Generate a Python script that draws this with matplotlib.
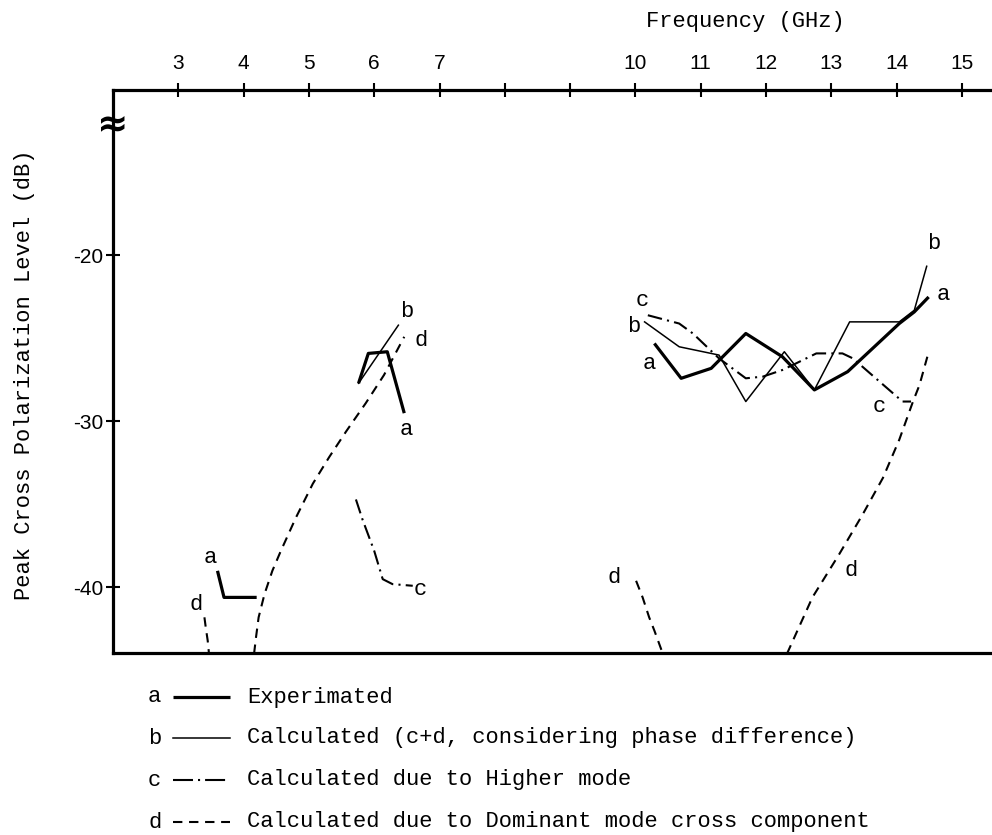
import matplotlib
matplotlib.use('Agg')
import matplotlib.pyplot as plt
from matplotlib.lines import Line2D

# a : experimented (thick solid)
a1_f = [3.60, 3.70, 4.20]
a1_db = [-39.0, -40.6, -40.6]
a2_f = [5.76, 5.91, 6.20, 6.46]
a2_db = [-27.7, -25.9, -25.8, -29.5]
a3_f = [10.29, 10.70, 11.16, 11.69, 12.25, 12.74, 13.25, 14.04, 14.27, 14.49]
a3_db = [-25.3, -27.4, -26.8, -24.7, -26.1, -28.1, -27.0, -24.1, -23.4, -22.5]

# b : calculated c+d with phase (thin solid)
b1_f = [5.76, 6.37]
b1_db = [-27.7, -24.2]
b2_f = [10.14, 10.67, 11.28, 11.69, 12.28, 12.74, 13.28, 14.04, 14.27, 14.46]
b2_db = [-24.0, -25.5, -26.0, -28.8, -25.8, -28.1, -24.0, -24.0, -23.3, -20.65]

# c : higher mode (dash-dot)
c1_f = [5.72, 5.82, 6.00, 6.13, 6.28, 6.59]
c1_db = [-34.7, -35.9, -37.8, -39.5, -39.8, -39.9]
c2_f = [10.19, 10.67, 10.88, 11.28, 11.69, 11.95, 12.25, 12.46, 12.77, 13.17, 13.33, 13.68, 14.09, 14.22]
c2_db = [-23.6, -24.1, -24.7, -26.2, -27.4, -27.3, -26.9, -26.5, -25.9, -25.9, -26.2, -27.4, -28.8, -28.8]

# d : dominant mode cross component (dashed)
d1_f = [3.40, 3.42, 3.45, 3.47]
d1_db = [-41.8, -42.4, -43.2, -44.0]
d2_f = [4.16, 4.19, 4.23, 4.32, 4.44, 4.57, 4.80, 5.06, 5.31, 5.57, 5.87, 6.15, 6.46]
d2_db = [-44.0, -43.0, -41.8, -40.4, -39.0, -37.8, -35.8, -33.75, -32.15, -30.6, -28.9, -27.2, -24.9]
d3_f = [10.01, 10.11, 10.21, 10.29, 10.42]
d3_db = [-39.6, -40.6, -41.8, -42.6, -44.0]
d4_f = [12.32, 12.71, 13.12, 13.48, 13.79, 14.04, 14.25, 14.35, 14.47]
d4_db = [-44.0, -40.6, -38.0, -35.6, -33.4, -31.1, -28.8, -27.8, -26.1]

xticks = [3, 4, 5, 6, 7, 8, 9, 10, 11, 12, 13, 14, 15]
xticklabels = ['3', '4', '5', '6', '7', '', '', '10', '11', '12', '13', '14', '15']
yticks = [-20, -30, -40]

# curve letters next to the lines
lab_txt = ['b', 'd', 'a', 'a', 'd', 'c', 'c', 'b', 'a', 'b', 'a', 'c', 'd', 'd']
lab_f = [6.49, 6.72, 6.49, 3.49, 3.27, 6.70, 10.11, 9.98, 10.21, 14.57, 14.71, 13.73, 13.30, 9.68]
lab_db = [-23.4, -25.1, -30.5, -38.2, -41.0, -40.1, -22.7, -24.3, -26.5, -19.3, -22.35, -29.1, -39.0, -39.4]

legend_keys = ['a', 'b', 'c', 'd']
legend_text = ['Experimated',
               'Calculated (c+d, considering phase difference)',
               'Calculated due to Higher mode',
               'Calculated due to Dominant mode cross component']

mono = 'Liberation Mono'
sans = 'Liberation Sans'
fs = 15.9

st_a = dict(color='black', lw=2.3, ls='-', solid_capstyle='butt')
st_b = dict(color='black', lw=1.1, ls='-')
st_c = dict(color='black', lw=1.5, ls=(0, (7, 2.5, 1, 2.5)))
st_d = dict(color='black', lw=1.5, ls=(0, (4.5, 3.2)))
st_c_key = dict(color='black', lw=1.5, ls=(0, (9.6, 2.4, 1, 2.4)))

W, H = 992, 835
fig = plt.figure(figsize=(W / 100, H / 100), dpi=100)
ax = fig.add_axes([113 / W, 1 - 653 / H, 1 - 113 / W, (653 - 89.5) / H])

for f, v in [(a1_f, a1_db), (a2_f, a2_db), (a3_f, a3_db)]:
    ax.plot(f, v, **st_a)
for f, v in [(b1_f, b1_db), (b2_f, b2_db)]:
    ax.plot(f, v, **st_b)
for f, v in [(c1_f, c1_db), (c2_f, c2_db)]:
    ax.plot(f, v, **st_c)
for f, v in [(d1_f, d1_db), (d2_f, d2_db), (d3_f, d3_db), (d4_f, d4_db)]:
    ax.plot(f, v, **st_d)

for t, f, v in zip(lab_txt, lab_f, lab_db):
    ax.text(f, v, t, family=mono, fontsize=fs, ha='center', va='center')

ax.set_xlim(2.0, 15.46)
ax.set_ylim(-43.95, -10.0)

ax.xaxis.tick_top()
ax.set_xticks(xticks)
ax.set_xticklabels(xticklabels, family=sans, fontsize=15)
ax.set_yticks(yticks)
ax.set_yticklabels([str(v) for v in yticks], family=sans, fontsize=15)
ax.tick_params(axis='x', direction='inout', length=10, width=1.5, pad=7)
ax.tick_params(axis='y', direction='inout', length=10, width=1.5, pad=2)

ax.spines['right'].set_visible(False)
for s in ['top', 'left', 'bottom']:
    ax.spines[s].set_linewidth(2.3)

# axis break mark
ax.text(2.0, -12.2, '\u2248', fontsize=27, ha='center', va='center',
        fontweight='bold', clip_on=False)

fig.text(745 / W, 1 - 22 / H, 'Frequency (GHz)', family=mono, fontsize=fs,
         ha='center', va='center')
fig.text(25 / W, 1 - 375 / H, 'Peak Cross Polarization Level (dB)', family=mono,
         fontsize=fs, ha='center', va='center', rotation=90)

rows_y = [697, 738, 780, 822]
styles = [st_a, st_b, st_c_key, st_d]
for k, txt, y, st in zip(legend_keys, legend_text, rows_y, styles):
    yy = 1 - y / H
    fig.text(148 / W, yy, k, family=mono, fontsize=fs, ha='left', va='center')
    fig.add_artist(Line2D([173 / W, 230 / W], [yy, yy], transform=fig.transFigure, **st))
    fig.text(247 / W, yy, txt, family=mono, fontsize=fs, ha='left', va='center')

fig.savefig('out.png', dpi=100)
